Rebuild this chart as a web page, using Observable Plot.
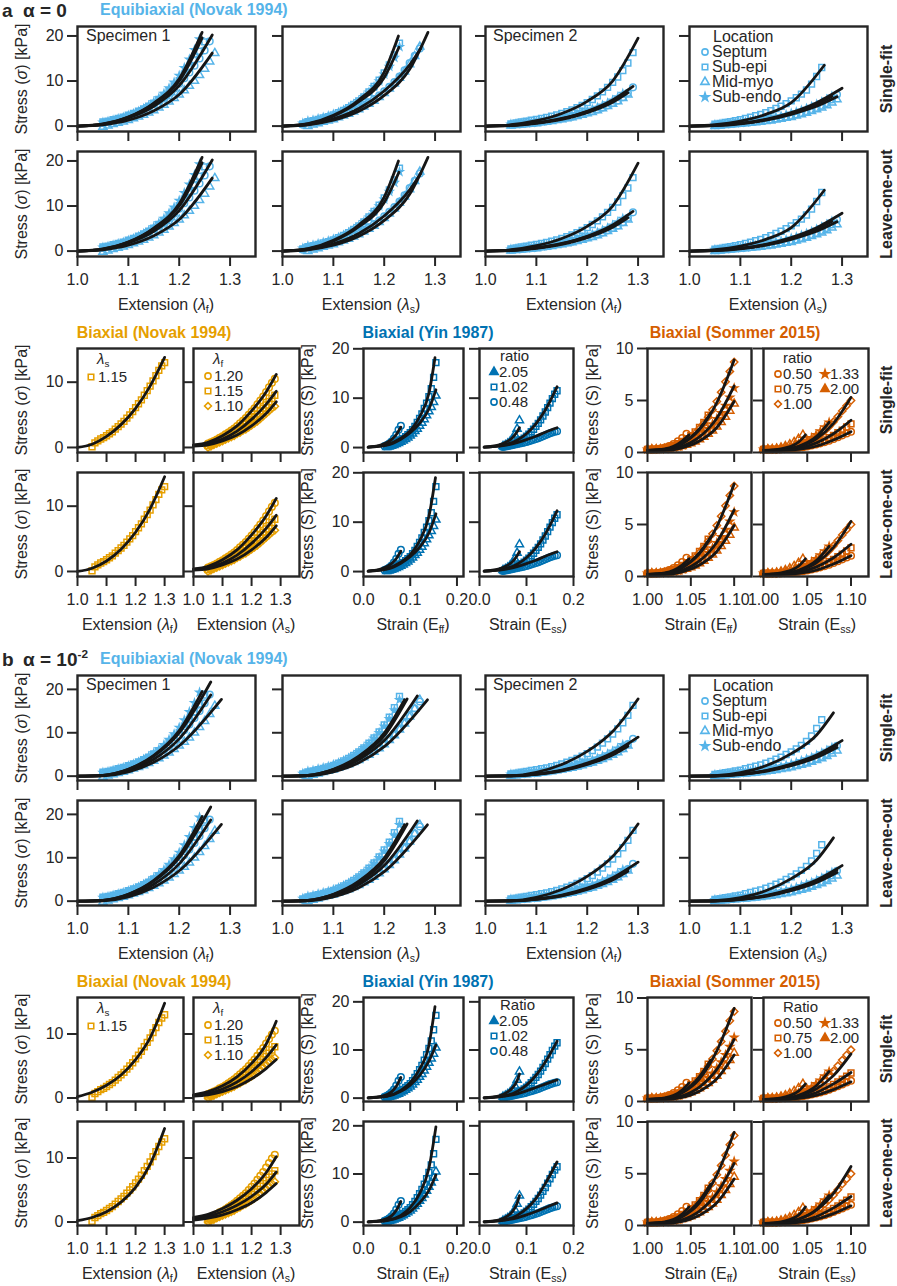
<!DOCTYPE html>
<html><head><meta charset="utf-8">
<script src="https://cdn.jsdelivr.net/npm/d3@7"></script>
<script src="https://cdn.jsdelivr.net/npm/@observablehq/plot@0.6"></script>
<style>
body{margin:0;background:#fff;}
#fig{position:relative;width:897px;height:1286px;overflow:hidden;background:#fff;font-family:'Liberation Sans',Arial,Helvetica,sans-serif;color:#262626;}
.t{position:absolute;white-space:nowrap;line-height:1;}
.t sub{font-size:0.66em;vertical-align:-0.28em;line-height:0;}
.t sup{font-size:0.62em;vertical-align:0.6em;line-height:0;}
</style></head><body><div id="fig"></div>
<script>
// ---------- x grids (sample positions of the measured points) ----------
const lamGrid = [1.04,1.05,1.06,1.07,1.08,1.09,1.10,1.11,1.12,1.13,1.14,1.15,1.16,1.17,1.18,1.19,1.20,1.21,1.22,1.23,1.24,1.25,1.26,1.27,1.28,1.29,1.30];
const strainGrid = [0.045,0.050,0.055,0.060,0.065,0.070,0.075,0.080,0.085,0.090,0.095,0.100,0.105,0.110,0.115,0.120,0.125,0.130,0.135,0.140,0.145,0.150,0.155,0.160,0.165];
const sommerGrid = [1.000,1.005,1.010,1.015,1.020,1.025,1.030,1.035,1.040,1.045,1.050,1.055,1.060,1.065,1.070,1.075,1.080,1.085,1.090,1.095,1.100];

// ---------- Equibiaxial (Novak 1994) measured stress [kPa] ----------
const eqS1fSeptum = [0.7,0.9,1.2,1.5,1.8,2.2,2.6,3.1,3.6,4.2,4.9,5.6,6.4,7.3,8.3,9.4,10.6,11.9,13.4,15.0,16.8,18.8];
const eqS1fSubEpi = [0.9,1.1,1.4,1.7,2.0,2.4,2.8,3.3,3.8,4.4,5.1,5.9,6.8,7.8,8.9,10.1,11.5,13.0,14.7,16.6,18.7];
const eqS1fMidMyo = [-0.2,0.1,0.4,0.7,1.0,1.3,1.7,2.1,2.5,3.0,3.5,4.1,4.7,5.4,6.2,7.0,7.9,8.9,10.0,11.3,12.7,14.3,16.2];
const eqS1fSubEndo = [0.8,1.0,1.3,1.6,1.9,2.3,2.7,3.2,3.8,4.5,5.3,6.2,7.2,8.4,9.7,11.2,12.9,14.8,16.9,19.3];
const eqS1sSeptum = [0.3,0.8,1.0,1.2,1.4,1.7,2.0,2.3,2.7,3.1,3.6,4.1,4.7,5.3,6.0,6.8,7.7,8.7,9.8,11.0,12.4,14.0,15.6,17.2];
const eqS1sSubEpi = [0.5,1.0,1.2,1.5,1.8,2.1,2.5,3.0,3.5,4.1,4.8,5.6,6.5,7.6,8.8,10.2,11.8,13.6,15.8,18.4];
const eqS1sMidMyo = [0.0,0.3,0.6,0.9,1.2,1.5,1.9,2.3,2.7,3.2,3.7,4.3,4.9,5.6,6.4,7.3,8.3,9.4,10.7,12.1,13.7,15.5,17.6];
const eqS1sSubEndo = [0.6,1.1,1.3,1.6,1.9,2.2,2.6,3.0,3.5,4.1,4.8,5.6,6.5,7.5,8.7,10.0,11.5,13.2,15.2,17.6];
const eqS2fSeptum = [0.3,0.4,0.5,0.6,0.7,0.8,1.0,1.1,1.3,1.5,1.7,1.9,2.1,2.4,2.7,3.0,3.3,3.7,4.1,4.6,5.1,5.7,6.4,7.4,8.6];
const eqS2fSubEpi = [0.5,0.7,0.9,1.1,1.3,1.5,1.7,1.9,2.2,2.5,2.8,3.2,3.6,4.1,4.6,5.2,5.9,6.7,7.6,8.6,9.7,10.9,12.3,14.0,16.3];
const eqS2fMidMyo = [0.1,0.2,0.3,0.4,0.5,0.6,0.8,0.9,1.1,1.3,1.5,1.7,1.9,2.2,2.5,2.8,3.1,3.5,3.9,4.4,4.9,5.5,6.2,7.0];
const eqS2fSubEndo = [0.4,0.5,0.6,0.7,0.8,1.0,1.1,1.3,1.5,1.7,1.9,2.1,2.4,2.7,3.0,3.3,3.7,4.1,4.6,5.1,5.7,6.4,7.2];
const eqS2sSeptum = [0.2,0.3,0.4,0.5,0.6,0.7,0.8,0.9,1.0,1.2,1.3,1.5,1.7,1.9,2.1,2.3,2.6,2.9,3.2,3.6,4.0,4.5,5.1,5.9,7.0];
const eqS2sSubEpi = [0.4,0.6,0.8,1.0,1.2,1.4,1.7,2.0,2.3,2.6,3.0,3.4,3.9,4.4,5.0,5.6,6.3,7.1,8.0,9.3,11.0,13.0];
const eqS2sMidMyo = [0.0,0.1,0.2,0.3,0.4,0.5,0.6,0.7,0.8,0.9,1.1,1.2,1.4,1.6,1.8,2.0,2.3,2.6,2.9,3.3,3.7,4.1,4.6,5.2,5.9];
const eqS2sSubEndo = [0.3,0.4,0.5,0.6,0.7,0.8,0.9,1.1,1.2,1.4,1.6,1.8,2.0,2.2,2.5,2.8,3.1,3.5,3.9,4.3,4.8,5.3,5.9,6.6];

// ---------- Biaxial (Novak 1994), start 1.05 ----------
const nvLs115 = [0.1,0.7,1.0,1.3,1.5,1.8,2.1,2.4,2.8,3.2,3.6,4.0,4.5,5.0,5.5,6.1,6.7,7.3,8.0,8.7,9.4,10.2,11.0,11.8,12.5,13.0];
const nvLf120 = [0.6,0.8,1.0,1.2,1.5,1.7,2.0,2.3,2.6,2.9,3.3,3.7,4.1,4.5,5.0,5.5,6.0,6.6,7.2,7.8,8.5,9.2,9.9,10.5];
const nvLf115 = [0.3,0.5,0.7,0.9,1.1,1.3,1.5,1.8,2.0,2.3,2.6,2.9,3.2,3.6,3.9,4.3,4.7,5.1,5.6,6.0,6.5,7.0,7.5,8.0];
const nvLf110 = [0.0,0.2,0.4,0.6,0.8,1.0,1.2,1.4,1.6,1.8,2.1,2.3,2.6,2.8,3.1,3.4,3.7,4.0,4.4,4.8,5.2,5.6,6.0,6.3];

// ---------- Biaxial (Yin 1987) ----------
const yinEff205 = [0.1,0.2,0.35,0.5,0.7,0.9,1.15,1.4,1.7,2.0,2.4,2.8,3.3,3.8,4.4,5.0,5.7,6.5,7.3,8.2,9.2,10.5];
const yinEff102 = [0.2,0.35,0.5,0.7,0.9,1.2,1.5,1.8,2.2,2.6,3.0,3.6,4.3,5.1,5.9,6.8,7.9,9.0,10.3,11.9,14.2,17.2];
const yinEff048 = [0.3,0.5,0.8,1.2,1.8,2.6,3.6,4.4];
const yinEss205 = [0.3,0.5,0.8,1.2,1.8,2.6,3.8,5.5];
const yinEss102 = [0.2,0.3,0.4,0.55,0.7,0.9,1.1,1.35,1.6,1.9,2.3,2.7,3.2,3.7,4.3,4.9,5.6,6.4,7.2,8.1,9.0,9.9,10.8,11.5];
const yinEss048 = [0.1,0.2,0.3,0.4,0.5,0.6,0.7,0.8,0.9,1.0,1.15,1.3,1.45,1.6,1.75,1.9,2.1,2.3,2.5,2.7,2.9,3.05,3.2,3.3];

// ---------- Biaxial (Sommer 2015), start 1.000 ----------
const smEff050 = [0.3,0.3,0.32,0.38,0.48,0.62,0.82,1.08,1.4,1.8];
const smEff075 = [0.3,0.3,0.3,0.35,0.42,0.52,0.66,0.84,1.06,1.32,1.62,1.98,2.4,2.9,3.6];
const smEff100 = [0.3,0.3,0.3,0.35,0.4,0.5,0.6,0.75,0.95,1.2,1.5,1.85,2.3,2.8,3.4,4.1,4.9,5.8,6.8,7.8,8.7];
const smEff133 = [0.3,0.3,0.3,0.32,0.36,0.42,0.5,0.6,0.72,0.88,1.07,1.3,1.58,1.9,2.28,2.72,3.23,3.8,4.5,5.3,6.2];
const smEff200 = [0.3,0.3,0.3,0.3,0.32,0.36,0.42,0.5,0.6,0.72,0.87,1.05,1.26,1.5,1.78,2.1,2.48,2.92,3.42,4.0,4.7];
const smEss200 = [0.3,0.3,0.32,0.38,0.47,0.6,0.78,1.0,1.3,1.7];
const smEss133 = [0.3,0.3,0.3,0.33,0.38,0.45,0.54,0.66,0.8,0.97,1.17,1.4,1.7,2.05,2.45,2.9];
const smEss100 = [0.3,0.3,0.3,0.32,0.35,0.4,0.47,0.56,0.68,0.82,1.0,1.2,1.45,1.75,2.1,2.5,2.95,3.45,4.0,4.5,5.0];
const smEss075 = [0.3,0.3,0.3,0.3,0.32,0.35,0.39,0.44,0.5,0.58,0.67,0.78,0.9,1.05,1.22,1.42,1.65,1.9,2.15,2.45,2.75];
const smEss050 = [0.3,0.3,0.3,0.3,0.31,0.33,0.36,0.4,0.45,0.51,0.58,0.67,0.77,0.88,1.0,1.14,1.3,1.47,1.65,1.83,2.0];

// ---------- model fits, knots [x, stress] ----------
const aEqFitsS1f = [
 [[1,0],[1.05,0.4],[1.1,1.8],[1.15,4.4],[1.2,9.0],[1.265,20.2]],
 [[1,0],[1.05,0.5],[1.1,2.0],[1.15,5.0],[1.2,10.0],[1.245,19.6]],
 [[1,0],[1.05,0.3],[1.1,1.3],[1.15,3.4],[1.2,7.0],[1.265,16.2]],
 [[1,0],[1.05,0.45],[1.1,2.0],[1.15,5.1],[1.2,10.5],[1.245,20.8]]];
const aEqFitsS1s = [
 [[1,0],[1.05,0.35],[1.1,1.6],[1.15,3.9],[1.2,7.8],[1.25,13.6],[1.272,17.3]],
 [[1,0],[1.05,0.55],[1.1,2.4],[1.15,5.8],[1.2,12.0],[1.228,20.0]],
 [[1,0],[1.05,0.3],[1.1,1.3],[1.15,3.3],[1.2,6.8],[1.25,12.6],[1.286,20.8]],
 [[1,0],[1.05,0.5],[1.1,2.2],[1.15,5.4],[1.2,10.8],[1.229,17.5]]];
const aEqFitsS2f = [
 [[1,0],[1.05,0.15],[1.1,0.7],[1.15,1.7],[1.2,3.3],[1.25,5.8],[1.29,8.8]],
 [[1,0],[1.05,0.3],[1.1,1.2],[1.15,2.8],[1.2,5.5],[1.25,10.0],[1.3,19.5]],
 [[1,0],[1.05,0.1],[1.1,0.6],[1.15,1.5],[1.2,3.0],[1.25,5.3],[1.28,7.4]],
 [[1,0],[1.05,0.15],[1.1,0.7],[1.15,1.6],[1.2,3.2],[1.25,5.5],[1.27,7.0]]];
const aEqFitsS2s = [
 [[1,0],[1.05,0.15],[1.1,0.6],[1.15,1.5],[1.2,3.0],[1.25,5.2],[1.3,8.4]],
 [[1,0],[1.05,0.3],[1.1,1.1],[1.15,2.6],[1.2,5.2],[1.265,13.5]],
 [[1,0],[1.05,0.1],[1.1,0.5],[1.15,1.3],[1.2,2.6],[1.25,4.4],[1.29,6.5]],
 [[1,0],[1.05,0.15],[1.1,0.6],[1.15,1.4],[1.2,2.8],[1.25,4.8],[1.28,6.6]]];
const bEqFitsS1f = [
 [[1,0],[1.05,0.15],[1.1,1.3],[1.15,3.9],[1.2,8.6],[1.262,18.7]],
 [[1,0],[1.05,0.2],[1.1,1.6],[1.15,4.6],[1.2,10.0],[1.262,21.7]],
 [[1,0],[1.05,0.1],[1.1,1.0],[1.15,3.2],[1.2,7.0],[1.283,17.7]],
 [[1,0],[1.05,0.2],[1.1,1.6],[1.15,4.8],[1.2,10.5],[1.245,19.5]]];
const bEqFitsS1s = [
 [[1,0],[1.05,0.15],[1.1,1.3],[1.15,3.8],[1.2,8.2],[1.265,18.5]],
 [[1,0],[1.05,0.2],[1.1,1.5],[1.15,4.3],[1.2,9.3],[1.245,17.8]],
 [[1,0],[1.05,0.1],[1.1,1.0],[1.15,3.1],[1.2,6.8],[1.285,17.6]],
 [[1,0],[1.05,0.2],[1.1,1.6],[1.15,4.6],[1.2,9.9],[1.24,17.6]]];
const bEqFitsS2f = [
 [[1,0],[1.05,0.05],[1.1,0.5],[1.15,1.4],[1.2,3.0],[1.25,5.4],[1.3,9.0]],
 [[1,0],[1.05,0.1],[1.1,0.9],[1.15,2.7],[1.2,5.7],[1.25,10.3],[1.3,17.8]],
 [[1,0],[1.05,0.05],[1.1,0.4],[1.15,1.2],[1.2,2.7],[1.25,4.9],[1.28,6.9]],
 [[1,0],[1.05,0.05],[1.1,0.45],[1.15,1.3],[1.2,2.8],[1.25,5.1],[1.28,7.3]]];
const bEqFitsS2s = [
 [[1,0],[1.05,0.05],[1.1,0.45],[1.15,1.3],[1.2,2.8],[1.25,4.9],[1.3,8.2]],
 [[1,0],[1.05,0.1],[1.1,0.8],[1.15,2.4],[1.2,5.2],[1.25,9.5],[1.283,14.6]],
 [[1,0],[1.05,0.04],[1.1,0.35],[1.15,1.1],[1.2,2.4],[1.25,4.3],[1.29,6.6]],
 [[1,0],[1.05,0.05],[1.1,0.4],[1.15,1.2],[1.2,2.6],[1.25,4.6],[1.29,7.2]]];

const aNvFits1 = [[[1,0],[1.05,0.5],[1.1,1.7],[1.15,3.5],[1.2,6.0],[1.25,9.4],[1.3,13.8]]];
const aNvFits1Loo = [[[1,0],[1.05,0.5],[1.1,1.6],[1.15,3.4],[1.2,6.0],[1.25,9.6],[1.3,14.5]]];
const aNvFits2 = [
 [[1,0.4],[1.05,0.8],[1.1,1.8],[1.15,3.3],[1.2,5.6],[1.25,8.5],[1.285,11.2]],
 [[1,0.3],[1.05,0.6],[1.1,1.3],[1.15,2.5],[1.2,4.3],[1.25,6.6],[1.285,8.6]],
 [[1,0.2],[1.05,0.4],[1.1,1.0],[1.15,1.9],[1.2,3.3],[1.25,5.2],[1.285,7.0]]];
const bNvFits1 = [[[1,0.2],[1.05,0.9],[1.1,2.0],[1.15,3.6],[1.2,6.0],[1.25,9.4],[1.3,14.8]]];
const bNvFits1Loo = [[[1,0.2],[1.05,0.7],[1.1,1.6],[1.15,3.1],[1.2,5.4],[1.25,9.0],[1.3,14.6]]];
const bNvFits2 = [
 [[1,0.5],[1.05,1.0],[1.1,1.9],[1.15,3.3],[1.2,5.4],[1.25,8.4],[1.285,12.0]],
 [[1,0.4],[1.05,0.7],[1.1,1.4],[1.15,2.5],[1.2,4.1],[1.25,6.3],[1.285,8.3]],
 [[1,0.3],[1.05,0.5],[1.1,1.0],[1.15,1.8],[1.2,3.0],[1.25,4.6],[1.285,6.0]]];
const bNvFits2Loo = [
 [[1,0.7],[1.05,1.2],[1.1,2.1],[1.15,3.4],[1.2,5.2],[1.25,7.7],[1.285,10.2]],
 [[1,0.5],[1.05,0.9],[1.1,1.6],[1.15,2.6],[1.2,4.0],[1.25,5.9],[1.285,7.8]],
 [[1,0.3],[1.05,0.6],[1.1,1.1],[1.15,1.9],[1.2,3.0],[1.25,4.6],[1.285,6.0]]];

const aYnFits1 = [
 [[0.01,0.1],[0.05,0.6],[0.08,1.9],[0.1,3.4],[0.12,6.2],[0.14,11.0],[0.153,18.2]],
 [[0.01,0.1],[0.05,0.5],[0.08,1.7],[0.1,3.0],[0.12,4.9],[0.14,7.8],[0.155,11.7]],
 [[0.01,0.1],[0.04,0.6],[0.06,1.6],[0.07,2.6],[0.08,4.1]]];
const aYnFits1Loo = [
 [[0.01,0.1],[0.05,0.6],[0.08,1.9],[0.1,3.4],[0.12,6.2],[0.14,11.2],[0.154,19.0]],
 [[0.01,0.1],[0.05,0.5],[0.08,1.7],[0.1,3.0],[0.12,4.9],[0.14,7.8],[0.155,11.7]],
 [[0.01,0.1],[0.04,0.6],[0.06,1.6],[0.07,2.6],[0.08,4.1]]];
const aYnFits2 = [
 [[0.01,0.1],[0.05,0.5],[0.08,1.5],[0.1,2.8],[0.12,4.8],[0.14,7.6],[0.165,12.3]],
 [[0.01,0.1],[0.05,0.4],[0.08,1.0],[0.1,1.6],[0.12,2.3],[0.14,3.1],[0.165,4.0]],
 [[0.01,0.1],[0.04,0.5],[0.06,1.3],[0.07,2.0],[0.08,3.2],[0.085,4.0]]];
const bYnFits1 = [
 [[0.01,0.05],[0.05,0.4],[0.08,1.6],[0.1,3.2],[0.12,6.0],[0.14,11.0],[0.153,19.0]],
 [[0.01,0.05],[0.05,0.35],[0.08,1.4],[0.1,2.7],[0.12,4.7],[0.14,7.7],[0.155,11.0]],
 [[0.01,0.05],[0.04,0.4],[0.06,1.3],[0.07,2.4],[0.08,4.3]]];
const bYnFits1Loo = [
 [[0.01,0.05],[0.05,0.35],[0.08,1.4],[0.1,3.0],[0.12,5.9],[0.14,11.2],[0.155,19.8]],
 [[0.01,0.05],[0.05,0.3],[0.08,1.1],[0.1,2.2],[0.12,4.0],[0.14,6.6],[0.155,9.8]],
 [[0.01,0.05],[0.04,0.4],[0.06,1.3],[0.07,2.4],[0.08,4.3]]];
const bYnFits2 = [
 [[0.01,0.05],[0.05,0.4],[0.08,1.4],[0.1,2.7],[0.12,4.7],[0.14,7.5],[0.165,11.8]],
 [[0.01,0.05],[0.05,0.35],[0.08,0.9],[0.1,1.5],[0.12,2.2],[0.14,2.9],[0.165,3.8]],
 [[0.01,0.05],[0.04,0.4],[0.06,1.3],[0.07,2.1],[0.08,3.6],[0.085,5.0]]];
const bYnFits2Loo = [
 [[0.01,0.05],[0.05,0.4],[0.08,1.4],[0.1,2.8],[0.12,4.9],[0.14,8.0],[0.165,12.5]],
 [[0.01,0.05],[0.05,0.35],[0.08,0.9],[0.1,1.5],[0.12,2.2],[0.14,3.0],[0.165,4.0]],
 [[0.01,0.05],[0.04,0.4],[0.06,1.3],[0.07,2.2],[0.08,3.9],[0.085,5.5]]];

const aSmFits1 = [
 [[1,0.2],[1.02,0.35],[1.04,1.1],[1.048,1.7]],
 [[1,0.2],[1.02,0.3],[1.04,0.9],[1.06,2.3],[1.073,3.8]],
 [[1,0.2],[1.02,0.3],[1.04,0.85],[1.06,2.2],[1.08,4.8],[1.1,8.9]],
 [[1,0.2],[1.02,0.25],[1.04,0.6],[1.06,1.5],[1.08,3.3],[1.1,6.4]],
 [[1,0.2],[1.02,0.2],[1.04,0.45],[1.06,1.1],[1.08,2.4],[1.1,4.9]]];
const aSmFits2 = [
 [[1,0.2],[1.02,0.35],[1.04,1.0],[1.048,1.7]],
 [[1,0.2],[1.02,0.28],[1.04,0.6],[1.06,1.5],[1.075,2.9]],
 [[1,0.2],[1.02,0.25],[1.04,0.55],[1.06,1.3],[1.08,2.8],[1.1,5.3]],
 [[1,0.2],[1.02,0.22],[1.04,0.4],[1.06,0.9],[1.08,1.8],[1.1,3.1]],
 [[1,0.2],[1.02,0.2],[1.04,0.3],[1.06,0.6],[1.08,1.2],[1.1,2.0]]];
const bSmFits1 = [
 [[1,0.2],[1.02,0.35],[1.04,1.1],[1.048,1.8]],
 [[1,0.2],[1.02,0.3],[1.04,0.9],[1.06,2.4],[1.073,4.0]],
 [[1,0.2],[1.02,0.3],[1.04,0.85],[1.06,2.2],[1.08,4.9],[1.1,9.0]],
 [[1,0.2],[1.02,0.22],[1.04,0.55],[1.06,1.4],[1.08,3.1],[1.1,6.0]],
 [[1,0.2],[1.02,0.2],[1.04,0.4],[1.06,1.0],[1.08,2.2],[1.1,4.5]]];
const bSmFits2 = [
 [[1,0.2],[1.02,0.35],[1.04,1.0],[1.048,1.7]],
 [[1,0.2],[1.02,0.28],[1.04,0.6],[1.06,1.5],[1.075,2.9]],
 [[1,0.2],[1.02,0.22],[1.04,0.5],[1.06,1.2],[1.08,2.5],[1.1,4.6]],
 [[1,0.2],[1.02,0.2],[1.04,0.38],[1.06,0.85],[1.08,1.7],[1.1,2.8]],
 [[1,0.2],[1.02,0.2],[1.04,0.3],[1.06,0.6],[1.08,1.15],[1.1,1.9]]];
const bSmFits2Loo = [
 [[1,0.2],[1.02,0.35],[1.04,1.0],[1.048,1.8]],
 [[1,0.2],[1.02,0.28],[1.04,0.6],[1.06,1.5],[1.075,2.9]],
 [[1,0.2],[1.02,0.25],[1.04,0.6],[1.06,1.45],[1.08,3.1],[1.1,5.7]],
 [[1,0.2],[1.02,0.2],[1.04,0.38],[1.06,0.85],[1.08,1.7],[1.1,2.8]],
 [[1,0.2],[1.02,0.2],[1.04,0.3],[1.06,0.6],[1.08,1.15],[1.1,1.9]]];

// ---------- tick values ----------
const lamTicks = [1.0,1.1,1.2,1.3];
const eqStressTicks = [0,10,20];
const nvStressTicks = [0,10];
const strainTicks = [0,0.1,0.2];
const smStressTicks = [0,5,10];
const smStrainTicks = [1.0,1.05,1.1];

// ---------- rendering ----------
const INK = "#262626", LINE = "#161616";
const FONT = "'Liberation Sans', Arial, Helvetica, sans-serif";
const cEq = "#56B4E9", cNv = "#E69F00", cYn = "#0072B2", cSm = "#D55E00";
const fig = document.getElementById("fig");
const f1 = d3.format(".1f"), f2 = d3.format(".2f");

function pts(grid, start, ys) { return ys.map((y, i) => ({x: grid[start + i], y})); }

const eqSeries = [
 [["circle",pts(lamGrid,1,eqS1fSeptum)],["square",pts(lamGrid,1,eqS1fSubEpi)],["triangle",pts(lamGrid,1,eqS1fMidMyo)],["star",pts(lamGrid,1,eqS1fSubEndo)]],
 [["circle",pts(lamGrid,0,eqS1sSeptum)],["square",pts(lamGrid,0,eqS1sSubEpi)],["triangle",pts(lamGrid,1,eqS1sMidMyo)],["star",pts(lamGrid,0,eqS1sSubEndo)]],
 [["circle",pts(lamGrid,1,eqS2fSeptum)],["square",pts(lamGrid,1,eqS2fSubEpi)],["triangle",pts(lamGrid,1,eqS2fMidMyo)],["star",pts(lamGrid,1,eqS2fSubEndo)]],
 [["circle",pts(lamGrid,1,eqS2sSeptum)],["square",pts(lamGrid,1,eqS2sSubEpi)],["triangle",pts(lamGrid,1,eqS2sMidMyo)],["star",pts(lamGrid,1,eqS2sSubEndo)]]];
const nvSeries = [
 [["square",pts(lamGrid,1,nvLs115)]],
 [["circle",pts(lamGrid,1,nvLf120)],["square",pts(lamGrid,1,nvLf115)],["diamond2",pts(lamGrid,1,nvLf110)]]];
const ynSeries = [
 [["triangle",pts(strainGrid,1,yinEff205)],["square",pts(strainGrid,1,yinEff102)],["circle",pts(strainGrid,0,yinEff048)]],
 [["triangle",pts(strainGrid,1,yinEss205)],["square",pts(strainGrid,1,yinEss102)],["circle",pts(strainGrid,1,yinEss048)]]];
const smSeries = [
 [["circle",pts(sommerGrid,0,smEff050)],["square",pts(sommerGrid,0,smEff075)],["diamond2",pts(sommerGrid,0,smEff100)],["star",pts(sommerGrid,0,smEff133)],["triangle",pts(sommerGrid,0,smEff200)]],
 [["triangle",pts(sommerGrid,0,smEss200)],["star",pts(sommerGrid,0,smEss133)],["diamond2",pts(sommerGrid,0,smEss100)],["square",pts(sommerGrid,0,smEss075)],["circle",pts(sommerGrid,0,smEss050)]]];

function panel(o) {
  const ml = 64, mr = 14, mt = 14, mb = 48;
  const marks = [];
  for (const [sym, data] of o.series) {
    const star = sym === "star";
    marks.push(Plot.dot(data, {x: "x", y: "y", symbol: sym, r: star ? 2.2 : (sym === "triangle" ? 3.0 : 3.3),
      stroke: o.color, strokeWidth: 1.5, fill: star ? o.color : "none"}));
  }
  for (const f of o.fits) {
    marks.push(Plot.line(f, {x: d => d[0], y: d => d[1], stroke: LINE, strokeWidth: 2.8, curve: "monotone-x"}));
  }
  marks.push(Plot.frame({stroke: INK, strokeWidth: 2.4}));
  marks.push(Plot.axisX(o.xTicks, {tickSize: 10, tickPadding: 7, stroke: INK, strokeWidth: 2, fontSize: 16,
    tickFormat: o.xLab ? o.xFmt : () => "", label: null}));
  marks.push(Plot.axisY(o.yTicks, {tickSize: 10, tickPadding: 4, stroke: INK, strokeWidth: 2, fontSize: 16,
    tickFormat: o.yLab ? (d => String(d)) : () => "", label: null}));
  const svg = Plot.plot({
    width: o.w + ml + mr, height: o.h + mt + mb,
    marginLeft: ml, marginRight: mr, marginTop: mt, marginBottom: mb,
    x: {domain: o.xd, label: null}, y: {domain: o.yd, label: null},
    style: {background: "none", overflow: "visible", fontFamily: FONT, color: INK},
    marks
  });
  svg.style.position = "absolute";
  svg.style.left = (o.left - ml) + "px";
  svg.style.top = (o.top - mt) + "px";
  svg.style.maxWidth = "none";
  fig.appendChild(svg);
}

function txt(html, x, y, opt = {}) {
  const d = document.createElement("div");
  d.className = "t";
  d.innerHTML = html;
  d.style.left = x + "px"; d.style.top = y + "px";
  d.style.fontSize = (opt.size || 16) + "px";
  d.style.fontWeight = opt.weight || 400;
  d.style.color = opt.color || INK;
  if (opt.lh) d.style.lineHeight = opt.lh;
  const a = opt.anchor || "middle";
  const tx = a === "start" ? "0" : a === "end" ? "-100%" : "-50%";
  let tr = `translate(${tx},-50%)`;
  if (opt.rot) tr += ` rotate(${opt.rot}deg)`;
  d.style.transform = tr;
  fig.appendChild(d);
}
const LEG = {anchor: "start", size: 15, lh: 0.8};

const symMap = {circle: d3.symbolCircle, square: d3.symbolSquare, triangle: d3.symbolTriangle,
  star: d3.symbolStar, diamond2: d3.symbolDiamond2 || d3.symbolDiamond};
function legMark(sym, filled, color, cx, cy) {
  const ns = "http://www.w3.org/2000/svg";
  const s = document.createElementNS(ns, "svg");
  s.setAttribute("width", 10); s.setAttribute("height", 10);
  s.style.position = "absolute"; s.style.left = (cx - 5) + "px"; s.style.top = (cy - 5) + "px";
  s.style.overflow = "visible";
  const p = document.createElementNS(ns, "path");
  p.setAttribute("d", d3.symbol(symMap[sym], sym === "star" ? 20 : 30)());
  p.setAttribute("transform", "translate(5,5)");
  p.setAttribute("fill", filled ? color : "none");
  p.setAttribute("stroke", color); p.setAttribute("stroke-width", 1.6);
  s.appendChild(p); fig.appendChild(s);
}

const sections = [
 {off: 0, letter: "a", alpha: "α = 0", ratio: "ratio",
  eqYd: [-1.2, 22.1], nvYd: [-0.77, 15.16], ynYd: [-1.0, 20.06], smYd: [0, 10],
  eqFits: [aEqFitsS1f, aEqFitsS1s, aEqFitsS2f, aEqFitsS2s],
  nvFits: [[aNvFits1, aNvFits2], [aNvFits1Loo, aNvFits2]],
  ynFits: [[aYnFits1, aYnFits2], [aYnFits1Loo, aYnFits2]],
  smFits: [[aSmFits1, aSmFits2], [aSmFits1, aSmFits2]]},
 {off: 649, letter: "b", alpha: "α = 10<sup>-2</sup>", ratio: "Ratio",
  eqYd: [-1.0, 23.2], nvYd: [-0.55, 15.7], ynYd: [-0.7, 20.9], smYd: [0, 10.05],
  eqFits: [bEqFitsS1f, bEqFitsS1s, bEqFitsS2f, bEqFitsS2s],
  nvFits: [[bNvFits1, bNvFits2], [bNvFits1Loo, bNvFits2Loo]],
  ynFits: [[bYnFits1, bYnFits2], [bYnFits1Loo, bYnFits2Loo]],
  smFits: [[bSmFits1, bSmFits2], [bSmFits1, bSmFits2Loo]]}
];

const eqLefts = [77, 282, 485, 689];
const eqXLab = ["<i>λ</i><sub>f</sub>", "<i>λ</i><sub>s</sub>", "<i>λ</i><sub>f</sub>", "<i>λ</i><sub>s</sub>"];
const nvPanels = [{left: 77, w: 106}, {left: 193, w: 106}];
const ynPanels = [{left: 363, w: 100, xd: [0, 0.214]}, {left: 479, w: 94, xd: [0, 0.2]}];
const smPanels = [{left: 647, w: 104}, {left: 763, w: 105}];

for (const s of sections) {
  const o = s.off;
  const eqTops = [26 + o, 151 + o];
  const bxTops = [348 + o, 472 + o];
  for (let r = 0; r < 2; r++) {
    for (let i = 0; i < 4; i++) {
      panel({left: eqLefts[i], top: eqTops[r], w: 178, h: 105, xd: [1.0, 1.35], yd: s.eqYd,
        xTicks: lamTicks, yTicks: eqStressTicks, xFmt: f1, xLab: r === 1, yLab: i === 0,
        color: cEq, series: eqSeries[i], fits: s.eqFits[i]});
    }
    for (let i = 0; i < 2; i++) {
      panel({left: nvPanels[i].left, top: bxTops[r], w: nvPanels[i].w, h: 104, xd: [1.0, 1.365], yd: s.nvYd,
        xTicks: lamTicks, yTicks: nvStressTicks, xFmt: f1, xLab: r === 1, yLab: i === 0,
        color: cNv, series: nvSeries[i], fits: s.nvFits[r][i]});
      panel({left: ynPanels[i].left, top: bxTops[r], w: ynPanels[i].w, h: 104, xd: ynPanels[i].xd, yd: s.ynYd,
        xTicks: strainTicks, yTicks: eqStressTicks, xFmt: f1, xLab: r === 1, yLab: i === 0,
        color: cYn, series: ynSeries[i], fits: s.ynFits[r][i]});
      panel({left: smPanels[i].left, top: bxTops[r], w: smPanels[i].w, h: 104, xd: [1.0, 1.12], yd: s.smYd,
        xTicks: smStrainTicks, yTicks: smStressTicks, xFmt: f2, xLab: r === 1, yLab: i === 0,
        color: cSm, series: smSeries[i], fits: s.smFits[r][i]});
    }
  }
  // headings
  txt(s.letter, 2, 10 + o, {anchor: "start", size: 19, weight: 700});
  txt(s.alpha, 23, 10 + o, {anchor: "start", size: 19, weight: 700});
  txt("Equibiaxial (Novak 1994)", 100, 10 + o, {anchor: "start", size: 16, weight: 700, color: cEq});
  txt("Biaxial (Novak 1994)", 154, 333 + o, {size: 16, weight: 700, color: cNv});
  txt("Biaxial (Yin 1987)", 428, 333 + o, {size: 16, weight: 700, color: cYn});
  txt("Biaxial (Sommer 2015)", 735, 333 + o, {size: 16, weight: 700, color: cSm});
  txt("Specimen 1", 86, 36 + o, {anchor: "start"});
  txt("Specimen 2", 493, 36 + o, {anchor: "start"});
  // row labels
  for (const [cy, lab] of [[78.5, "Single-fit"], [203.5, "Leave-one-out"], [400, "Single-fit"], [524, "Leave-one-out"]])
    txt(lab, 887, cy + o, {rot: -90, weight: 700});
  // y labels
  for (const cy of [78.5, 203.5]) txt("Stress (<i>σ</i>) [kPa]", 22, cy + o, {rot: -90});
  for (const cy of [400, 524]) {
    txt("Stress (<i>σ</i>) [kPa]", 21.5, cy + o, {rot: -90});
    txt("Stress (S) [kPa]", 307.5, cy + o, {rot: -90});
    txt("Stress (S) [kPa]", 593, cy + o, {rot: -90});
  }
  // x labels
  eqLefts.forEach((l, i) => txt("Extension (" + eqXLab[i] + ")", l + 89, 305 + o));
  txt("Extension (<i>λ</i><sub>f</sub>)", 130, 625 + o);
  txt("Extension (<i>λ</i><sub>s</sub>)", 246, 625 + o);
  txt("Strain (E<sub>ff</sub>)", 413, 625 + o);
  txt("Strain (E<sub>ss</sub>)", 528, 625 + o);
  txt("Strain (E<sub>ff</sub>)", 701, 625 + o);
  txt("Strain (E<sub>ss</sub>)", 817, 625 + o);
  // legends
  txt("Location", 713, 37 + o, {anchor: "start", size: 16, lh: 0.8});
  [["circle", false, "Septum"], ["square", false, "Sub-epi"], ["triangle", false, "Mid-myo"], ["star", true, "Sub-endo"]]
    .forEach(([sym, fill, lab], k) => { legMark(sym, fill, cEq, 705, 52 + 15 * k + o); txt(lab, 712, 52 + 15 * k + o, {anchor: "start", size: 16, lh: 0.8}); });
  txt("<i>λ</i><sub>s</sub>", 97, 359 + o, LEG);
  legMark("square", false, cNv, 91, 377 + o); txt("1.15", 98, 377 + o, LEG);
  txt("<i>λ</i><sub>f</sub>", 213, 359 + o, LEG);
  [["circle", "1.20"], ["square", "1.15"], ["diamond2", "1.10"]]
    .forEach(([sym, lab], k) => { legMark(sym, false, cNv, 208, 376 + 15 * k + o); txt(lab, 214, 376 + 15 * k + o, LEG); });
  txt(s.ratio, 500, 356 + o, LEG);
  [["triangle", true, "2.05"], ["square", false, "1.02"], ["circle", false, "0.48"]]
    .forEach(([sym, fill, lab], k) => { legMark(sym, fill, cYn, 494, 372 + 15 * k + o); txt(lab, 499, 372 + 15 * k + o, LEG); });
  txt(s.ratio, 783, 358 + o, LEG);
  [["circle", false, "0.50"], ["square", false, "0.75"], ["diamond2", false, "1.00"]]
    .forEach(([sym, fill, lab], k) => { legMark(sym, fill, cSm, 778, 374 + 15 * k + o); txt(lab, 783, 374 + 15 * k + o, LEG); });
  [["star", true, "1.33"], ["triangle", true, "2.00"]]
    .forEach(([sym, fill, lab], k) => { legMark(sym, fill, cSm, 825, 374 + 15 * k + o); txt(lab, 830, 374 + 15 * k + o, LEG); });
}
</script></body></html>
